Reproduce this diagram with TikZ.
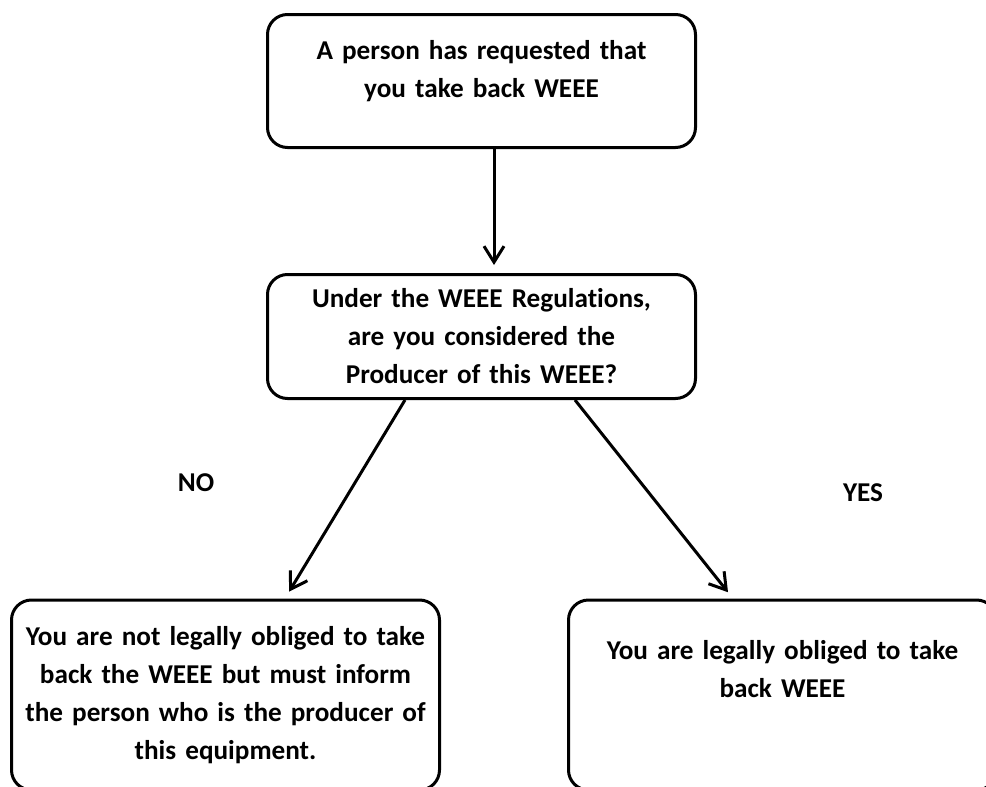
\documentclass[tikz,border=0pt]{standalone}
\usepackage{fontspec}
\setmainfont{Carlito}[WordSpace=0.8, Ligatures=NoCommon]
\usetikzlibrary{arrows.meta,positioning}
\tikzset{%
  etape/.style={draw, line width=1.5pt, rounded corners=10pt, minimum width=214pt, text width=210pt, align=center, inner sep=0pt, font=\bfseries\fontsize{13.6}{19}\selectfont},
  line/.style={draw, line width=1.5pt, -{Straight Barb[length=8pt,width=10pt]}, shorten >=4pt},
  reponse/.style={font=\bfseries\fontsize{13.6}{19}\selectfont},
}

\begin{document}
\begin{tikzpicture}[x=0.5pt,y=-0.5pt]
  \path [use as bounding box, clip] (0,0) rectangle (986,787);

  \node (demande) [etape, minimum height=66.5pt] at (481.5,81) {A person has requested that\\ you take back WEEE\\[-7pt]\mbox{}};
  \node (producteur) [etape, minimum height=62pt] at (481.5,336.5) {Under the WEEE Regulations,\\ are you considered the\\ Producer of this WEEE?};
  \node (non) [etape, minimum height=95pt] at (225.5,695) {You are not legally obliged to take\\ back the WEEE but must inform\\ the person who is the producer of\\ this equipment.};
  \node (oui) [etape, minimum height=95pt] at (782.5,695) {You are legally obliged to take\\ back WEEE\\[7pt]\mbox{}};

  \path [line] ([xshift=6.25pt]demande.south) -- ([xshift=6.25pt]producteur.north);
  \path [line] ([xshift=-38.25pt]producteur.south) -- ([xshift=29.75pt]non.north);
  \path [line] ([xshift=46.75pt]producteur.south) -- ([xshift=-24.75pt]oui.north);

  \node (no) [reponse] at (196,483) {NO};
  \node (yes) [reponse] at (863,493) {YES};
\end{tikzpicture}
\end{document}
